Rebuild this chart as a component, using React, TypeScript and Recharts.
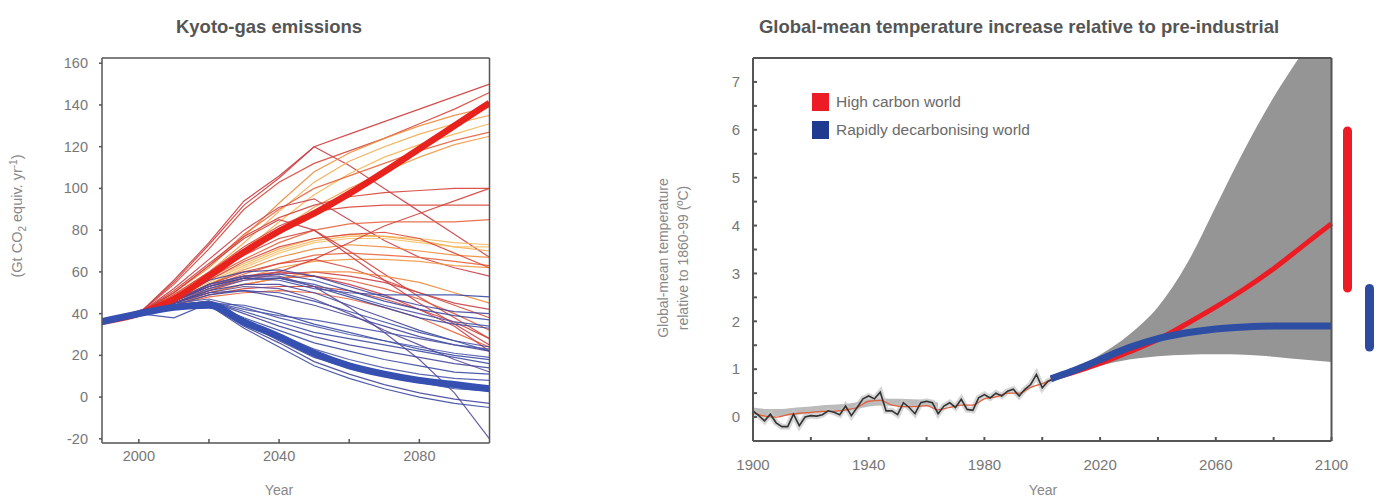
import React from "react";
import {
  LineChart,
  ComposedChart,
  BarChart,
  Line,
  Area,
  Bar,
  XAxis,
  YAxis,
} from "recharts";

// ---------- Kyoto-gas emissions (Gt CO2 equiv. / yr) ----------
const emisYears = [1989, 2000, 2010, 2020, 2030, 2040, 2050, 2060, 2070, 2080, 2090, 2100];
const emisTicksX = [2000, 2020, 2040, 2060, 2080];
const emisLabelYears = [2000, 2040, 2080];
const emisTicksY = [-20, 0, 20, 40, 60, 80, 100, 120, 140, 160];
const emisRightTicks = [0, 40, 80, 120];

const highRuns: number[][] = [
  [36, 40, 56, 74, 94, 106, 120, 126, 132, 138, 144, 150],
  [36, 40, 54, 71, 90, 103, 112, 118, 124, 131, 138, 146],
  [36, 40, 55, 73, 92, 105, 120, 111, 100, 89, 78, 67],
  [36, 40, 50, 62, 77, 93, 108, 117, 124, 130, 135, 139],
  [36, 40, 49, 60, 74, 89, 103, 113, 120, 126, 131, 135],
  [36, 40, 48, 58, 70, 84, 97, 107, 115, 121, 126, 131],
  [36, 40, 50, 63, 78, 90, 100, 106, 112, 118, 123, 127],
  [36, 40, 48, 58, 69, 80, 91, 100, 108, 115, 121, 125],
  [36, 40, 51, 64, 77, 86, 92, 96, 98, 99, 100, 100],
  [36, 40, 49, 60, 72, 82, 89, 91, 92, 92, 92, 92],
  [36, 40, 52, 66, 80, 91, 95, 85, 75, 67, 62, 58],
  [36, 40, 48, 57, 66, 74, 80, 83, 84, 84, 84, 85],
  [36, 40, 47, 55, 63, 70, 75, 77, 77, 76, 74, 73],
  [36, 40, 47, 56, 64, 71, 76, 78, 77, 75, 72, 70],
  [36, 40, 46, 54, 62, 69, 74, 76, 76, 74, 72, 72],
  [36, 40, 46, 54, 61, 67, 71, 73, 72, 70, 68, 67],
  [36, 40, 46, 53, 59, 64, 68, 69, 68, 67, 65, 63],
  [36, 40, 45, 51, 57, 62, 65, 66, 66, 65, 63, 62],
  [36, 40, 48, 58, 68, 76, 80, 70, 59, 48, 38, 28],
  [36, 40, 46, 54, 60, 64, 66, 62, 56, 50, 44, 38],
  [36, 40, 45, 51, 56, 59, 60, 58, 55, 50, 45, 42],
  [36, 40, 44, 50, 54, 57, 58, 56, 52, 47, 40, 32],
  [36, 40, 44, 49, 52, 53, 53, 51, 47, 42, 36, 28],
  [36, 40, 44, 48, 50, 51, 50, 47, 43, 38, 31, 24],
  [36, 40, 46, 53, 58, 60, 58, 54, 49, 42, 34, 22],
  [36, 40, 45, 50, 54, 57, 60, 60, 58, 55, 50, 45],
  [36, 40, 47, 56, 65, 72, 76, 78, 79, 76, 69, 62],
  [36, 40, 50, 63, 76, 85, 80, 68, 56, 45, 35, 25],
  [36, 40, 46, 52, 57, 60, 66, 74, 82, 88, 94, 100],
];
const highColors = [
  "#cf3b3b", "#d9473a", "#c94048", "#ef8a3c", "#f4a94a", "#f6b755", "#e8643c", "#f09a45",
  "#d44438", "#d9473a", "#c94048", "#e8643c", "#f5b860", "#f4a94a", "#f6c26b", "#ef8a3c",
  "#e8643c", "#f09a45", "#d44438", "#d9473a", "#c94048", "#e25a3c", "#d44438", "#e8643c",
  "#c94048", "#ef8a3c", "#d9473a", "#c94048", "#d44438",
];

const lowRuns: number[][] = [
  [36, 40, 46, 53, 57, 56, 52, 50, 49, 49, 49, 48],
  [36, 40, 47, 56, 60, 61, 58, 53, 48, 44, 41, 40],
  [36, 40, 46, 54, 58, 59, 56, 51, 46, 42, 39, 37],
  [36, 40, 45, 52, 56, 57, 54, 49, 44, 40, 36, 34],
  [36, 40, 46, 53, 57, 57, 53, 48, 43, 38, 35, 33],
  [36, 40, 45, 51, 54, 54, 50, 44, 38, 32, 27, 24],
  [36, 40, 46, 54, 58, 58, 53, 43, 31, 18, 2, -20],
  [36, 40, 44, 49, 51, 50, 46, 41, 36, 31, 27, 22],
  [36, 40, 45, 47, 43, 38, 34, 30, 27, 24, 21, 19],
  [36, 40, 44, 46, 41, 36, 31, 28, 25, 22, 19, 16],
  [36, 40, 44, 46, 40, 34, 29, 25, 22, 19, 16, 14],
  [36, 40, 43, 45, 38, 32, 26, 22, 18, 15, 12, 11],
  [36, 40, 43, 45, 37, 30, 23, 18, 14, 11, 9, 8],
  [36, 40, 44, 45, 36, 27, 19, 14, 10, 7, 4, 3],
  [36, 40, 43, 44, 34, 26, 17, 11, 6, 2, -1, -3],
  [36, 40, 42, 44, 33, 24, 15, 9, 4, 0, -3, -5],
  [36, 40, 45, 50, 53, 52, 47, 40, 32, 25, 18, 12],
  [36, 40, 38, 45, 44, 40, 35, 31, 27, 23, 20, 18],
  [36, 40, 45, 50, 51, 48, 44, 39, 34, 29, 25, 22],
  [36, 40, 44, 46, 42, 39, 37, 34, 31, 28, 25, 23],
];
const lowColors = [
  "#3b4ba3", "#45469c", "#3b4ba3", "#4d56a8", "#3b4ba3", "#45469c", "#5a4d9a", "#3b4ba3",
  "#4d56a8", "#3b4ba3", "#45469c", "#3b4ba3", "#4d56a8", "#3b4ba3", "#45469c", "#3b4ba3",
  "#5a4d9a", "#3b4ba3", "#45469c", "#4d56a8",
];

const thickHigh = [36, 40, 47, 58, 69.5, 79.5, 88, 97.5, 108, 119, 130, 141];
const thickLow = [36, 40, 43, 44, 36, 29, 21, 15, 11, 8, 6, 4];

// ---------- Global-mean temperature (deg C relative to 1860-99) ----------
const obsYears = [
  1900, 1902, 1904, 1906, 1908, 1910, 1912, 1914, 1916, 1918, 1920, 1922, 1924, 1926, 1928,
  1930, 1932, 1934, 1936, 1938, 1940, 1942, 1944, 1946, 1948, 1950, 1952, 1954, 1956, 1958,
  1960, 1962, 1964, 1966, 1968, 1970, 1972, 1974, 1976, 1978, 1980, 1982, 1984, 1986, 1988,
  1990, 1992, 1994, 1996, 1998, 2000, 2002, 2004,
];
const obsTemp = [
  0.13, 0.03, -0.08, 0.06, -0.12, -0.2, -0.2, 0.06, -0.18, 0.0, 0.03, 0.02, 0.05, 0.13, 0.1,
  0.05, 0.23, 0.03, 0.2, 0.38, 0.44, 0.38, 0.52, 0.13, 0.13, 0.05, 0.3, 0.2, 0.07, 0.3,
  0.33, 0.3, 0.07, 0.23, 0.3, 0.2, 0.37, 0.16, 0.14, 0.4, 0.47, 0.4, 0.5, 0.44, 0.54,
  0.58, 0.44, 0.58, 0.68, 0.89, 0.61, 0.75, 0.8,
];
const modelYears = [
  1900, 1904, 1908, 1912, 1916, 1920, 1924, 1928, 1932, 1936, 1940, 1944, 1948, 1952,
  1956, 1960, 1964, 1968, 1972, 1976, 1980, 1984, 1988, 1992, 1996, 2000, 2004,
];
const modelTemp = [
  0.1, 0.02, 0.0, 0.05, 0.08, 0.1, 0.12, 0.12, 0.15, 0.2, 0.33, 0.35, 0.25, 0.22,
  0.22, 0.24, 0.15, 0.2, 0.25, 0.25, 0.38, 0.42, 0.5, 0.5, 0.62, 0.7, 0.8,
];
const histBandYears = [1900, 1905, 1910, 1915, 1920, 1925, 1930, 1935, 1940, 1945, 1950, 1955, 1960, 1964];
const histBandLow = [0.05, 0.02, 0.02, 0.05, 0.07, 0.1, 0.12, 0.15, 0.22, 0.24, 0.23, 0.23, 0.22, 0.2];
const histBandHigh = [0.2, 0.17, 0.17, 0.2, 0.22, 0.25, 0.27, 0.3, 0.38, 0.39, 0.38, 0.37, 0.36, 0.3];

const projYears = [2003, 2010, 2020, 2030, 2040, 2050, 2060, 2070, 2080, 2090, 2100];
const projLow = [0.75, 0.88, 1.07, 1.2, 1.27, 1.3, 1.31, 1.3, 1.26, 1.2, 1.15];
const projHigh = [0.85, 0.98, 1.3, 1.72, 2.3, 3.2, 4.4, 5.6, 6.68, 7.62, 8.55];
const highCarbon = [0.8, 0.92, 1.12, 1.36, 1.62, 1.95, 2.3, 2.68, 3.1, 3.57, 4.04];
const rapidDecarb = [0.8, 0.95, 1.2, 1.45, 1.64, 1.76, 1.84, 1.88, 1.9, 1.9, 1.9];

const tempTicksX = [1900, 1920, 1940, 1960, 1980, 2000, 2020, 2040, 2060, 2080, 2100];
const tempLabelYears = [1900, 1940, 1980, 2020, 2060, 2100];
const tempTicksY = [0, 0.5, 1, 1.5, 2, 2.5, 3, 3.5, 4, 4.5, 5, 5.5, 6, 6.5, 7];

// 2100 ranges shown beside the plot
const rangeLabels = ["2100"];
const highRange = [2.6, 6.07];
const lowRange = [1.37, 2.78];

const legendItems = [
  { label: "High carbon world", color: "#ed1c24" },
  { label: "Rapidly decarbonising world", color: "#1f3a8f" },
];

const emisData = emisYears.map((year, i) => {
  const row: Record<string, number> = { year, thickHigh: thickHigh[i], thickLow: thickLow[i] };
  highRuns.forEach((r, k) => (row[`h${k}`] = r[i]));
  lowRuns.forEach((r, k) => (row[`l${k}`] = r[i]));
  return row;
});

const tempRows = new Map<number, any>();
const put = (years: number[], key: string, vals: any[]) =>
  years.forEach((y, i) => {
    const r = tempRows.get(y) ?? { year: y };
    r[key] = vals[i];
    tempRows.set(y, r);
  });
put(obsYears, "obs", obsTemp);
put(modelYears, "model", modelTemp);
put(histBandYears, "histBand", histBandLow.map((v, i) => [v, histBandHigh[i]]));
put(projYears, "proj", projLow.map((v, i) => [v, projHigh[i]]));
put(projYears, "high", highCarbon);
put(projYears, "low", rapidDecarb);
const tempData = [...tempRows.values()].sort((a, b) => a.year - b.year);

const rangeData = rangeLabels.map((name) => ({ name, high: highRange, low: lowRange }));

const FONT = "'Liberation Sans', Arial, sans-serif";
const TICK_COLOR = "#777";
const AXIS_COLOR = "#555";

const xTick = (labels: number[], size: number) => (props: any) => {
  const { x, y, payload } = props;
  if (!labels.includes(payload.value)) return <g />;
  return (
    <text x={x} y={y} dy="0.71em" textAnchor="middle" fill={TICK_COLOR} fontSize={size} fontFamily={FONT}>
      {payload.value}
    </text>
  );
};

const yTick = (onlyInt: boolean, size: number) => (props: any) => {
  const { x, y, payload } = props;
  if (onlyInt && !Number.isInteger(payload.value)) return <g />;
  return (
    <text x={x} y={y} dy="0.35em" textAnchor="end" fill={TICK_COLOR} fontSize={size} fontFamily={FONT}>
      {payload.value}
    </text>
  );
};

const abs = (style: React.CSSProperties): React.CSSProperties => ({
  position: "absolute",
  whiteSpace: "nowrap",
  fontFamily: FONT,
  ...style,
});

export default function App() {
  return (
    <div
      style={{
        position: "absolute",
        left: 0,
        top: 0,
        width: 1378,
        height: 497,
        overflow: "hidden",
        background: "#fff",
        fontFamily: FONT,
      }}
    >
      {/* left panel */}
      <div style={{ position: "absolute", left: 0, top: 0 }}>
        <LineChart width={520} height={497} data={emisData} margin={{ top: 58, right: 30.5, bottom: 24, left: 0 }}>
          <XAxis
            xAxisId="b"
            dataKey="year"
            type="number"
            domain={[1989.5, 2100]}
            allowDataOverflow
            ticks={emisTicksX}
            height={30}
            tickSize={-4}
            tickMargin={12}
            stroke={AXIS_COLOR}
            strokeWidth={1.5}
            tick={xTick(emisLabelYears, 14.5)}
          />
          <XAxis
            xAxisId="t"
            orientation="top"
            mirror
            dataKey="year"
            type="number"
            domain={[1989.5, 2100]}
            allowDataOverflow
            ticks={emisTicksX}
            tickSize={4}
            tick={false}
            stroke={AXIS_COLOR}
            strokeWidth={1.5}
          />
          <YAxis
            yAxisId="l"
            type="number"
            domain={[-22, 162.5]}
            allowDataOverflow
            ticks={emisTicksY}
            width={102}
            tickSize={3}
            tickMargin={11}
            stroke={AXIS_COLOR}
            strokeWidth={1.5}
            tick={yTick(false, 14.5)}
          />
          <YAxis
            yAxisId="r"
            orientation="right"
            mirror
            type="number"
            domain={[-22, 162.5]}
            allowDataOverflow
            ticks={emisRightTicks}
            tickSize={4}
            tick={false}
            stroke={AXIS_COLOR}
            strokeWidth={1.5}
          />
          {/* invisible series that keeps the frame axes in use */}
          <Line xAxisId="t" yAxisId="r" dataKey="thickHigh" stroke="none" dot={false} activeDot={false} isAnimationActive={false} />
          {highRuns.map((_, k) => (
            <Line
              key={`h${k}`}
              xAxisId="b"
              yAxisId="l"
              dataKey={`h${k}`}
              stroke={highColors[k]}
              strokeWidth={1.2}
              strokeOpacity={0.9}
              dot={false}
              type="linear"
              isAnimationActive={false}
            />
          ))}
          {lowRuns.map((_, k) => (
            <Line
              key={`l${k}`}
              xAxisId="b"
              yAxisId="l"
              dataKey={`l${k}`}
              stroke={lowColors[k]}
              strokeWidth={1.2}
              strokeOpacity={0.9}
              dot={false}
              type="linear"
              isAnimationActive={false}
            />
          ))}
          <Line xAxisId="b" yAxisId="l" dataKey="thickHigh" stroke="#e8231e" strokeWidth={6.5} dot={false} type="monotone" isAnimationActive={false} />
          <Line xAxisId="b" yAxisId="l" dataKey="thickLow" stroke="#3550b0" strokeWidth={7} dot={false} type="monotone" isAnimationActive={false} />
        </LineChart>
      </div>

      <div style={abs({ left: 269, top: 27, transform: "translate(-50%,-50%)", fontSize: 18.5, fontWeight: 700, color: "#555" })}>
        Kyoto-gas emissions
      </div>
      <div style={abs({ left: 18, top: 216, transform: "translate(-50%,-50%) rotate(-90deg)", fontSize: 14.5, color: "#888" })}>
        (Gt CO<sub style={{ fontSize: 10 }}>2</sub> equiv. yr<sup style={{ fontSize: 10 }}>-1</sup>)
      </div>
      <div style={abs({ left: 279, top: 490, transform: "translate(-50%,-50%)", fontSize: 14, color: "#888" })}>Year</div>

      {/* right panel */}
      <div style={{ position: "absolute", left: 640, top: 0 }}>
        <ComposedChart width={738} height={497} data={tempData} margin={{ top: 58, right: 46.5, bottom: 26, left: 0 }}>
          <XAxis
            xAxisId="b"
            dataKey="year"
            type="number"
            domain={[1900, 2100]}
            ticks={tempTicksX}
            height={30}
            tickSize={-4}
            tickMargin={22}
            stroke={AXIS_COLOR}
            strokeWidth={2}
            tick={xTick(tempLabelYears, 15)}
          />
          <XAxis
            xAxisId="t"
            orientation="top"
            mirror
            dataKey="year"
            type="number"
            domain={[1900, 2100]}
            tick={false}
            tickLine={false}
            stroke={AXIS_COLOR}
            strokeWidth={2}
          />
          <YAxis
            yAxisId="l"
            type="number"
            domain={[-0.5, 7.5]}
            allowDataOverflow
            ticks={tempTicksY}
            width={113}
            tickSize={-4}
            tickMargin={17}
            stroke={AXIS_COLOR}
            strokeWidth={2}
            tick={yTick(true, 15)}
          />
          <YAxis
            yAxisId="r"
            orientation="right"
            mirror
            type="number"
            domain={[-0.5, 7.5]}
            allowDataOverflow
            tick={false}
            tickLine={false}
            stroke={AXIS_COLOR}
            strokeWidth={2}
          />
          <Area xAxisId="b" yAxisId="l" dataKey="proj" type="monotone" fill="#959595" fillOpacity={1} stroke="none" connectNulls isAnimationActive={false} />
          <Area xAxisId="b" yAxisId="l" dataKey="histBand" type="monotone" fill="#b4b4b4" fillOpacity={0.9} stroke="none" connectNulls isAnimationActive={false} />
          <Line xAxisId="b" yAxisId="l" dataKey="obs" stroke="#c4c4c4" strokeOpacity={0.7} strokeWidth={6} dot={false} type="linear" connectNulls isAnimationActive={false} />
          <Line xAxisId="b" yAxisId="l" dataKey="model" stroke="#e0603a" strokeWidth={1.3} dot={false} type="monotone" connectNulls isAnimationActive={false} />
          <Line xAxisId="b" yAxisId="l" dataKey="obs" stroke="#333" strokeWidth={1.6} dot={false} type="linear" connectNulls isAnimationActive={false} />
          <Line xAxisId="b" yAxisId="l" dataKey="high" stroke="#ed1c24" strokeWidth={5} dot={false} type="monotone" connectNulls isAnimationActive={false} />
          <Line xAxisId="b" yAxisId="l" dataKey="low" stroke="#2e4ea4" strokeWidth={7} dot={false} type="monotone" connectNulls isAnimationActive={false} />
          {/* invisible series that keeps the frame axes in use */}
          <Line xAxisId="t" yAxisId="r" dataKey="high" stroke="none" dot={false} activeDot={false} connectNulls isAnimationActive={false} />
        </ComposedChart>
      </div>

      <div style={{ position: "absolute", left: 1338, top: 0 }}>
        <BarChart width={40} height={497} data={rangeData} margin={{ top: 58, right: 0, bottom: 56, left: 0 }} barGap={13}>
          <XAxis dataKey="name" hide />
          <YAxis type="number" domain={[-0.5, 7.5]} hide />
          <Bar dataKey="high" fill="#ed1c24" barSize={9} radius={4.5} isAnimationActive={false} />
          <Bar dataKey="low" fill="#2e4a9e" barSize={9} radius={4.5} isAnimationActive={false} />
        </BarChart>
      </div>

      <div style={abs({ left: 1019, top: 27, transform: "translate(-50%,-50%)", fontSize: 18.5, fontWeight: 700, color: "#555" })}>
        Global-mean temperature increase relative to pre-industrial
      </div>
      <div
        style={abs({
          left: 673,
          top: 258,
          transform: "translate(-50%,-50%) rotate(-90deg)",
          fontSize: 14,
          lineHeight: "20px",
          color: "#888",
          textAlign: "center",
        })}
      >
        Global-mean temperature
        <br />
        relative to 1860-99 (ºC)
      </div>
      <div style={abs({ left: 1043, top: 490, transform: "translate(-50%,-50%)", fontSize: 14, color: "#888" })}>Year</div>

      {legendItems.map((item, i) => (
        <div key={item.label} style={abs({ left: 812, top: 93 + i * 28, height: 18, display: "flex", alignItems: "center" })}>
          <div style={{ width: 17, height: 18, background: item.color, marginRight: 7 }} />
          <span style={{ fontSize: 15.5, color: "#6a6a6a" }}>{item.label}</span>
        </div>
      ))}
    </div>
  );
}
